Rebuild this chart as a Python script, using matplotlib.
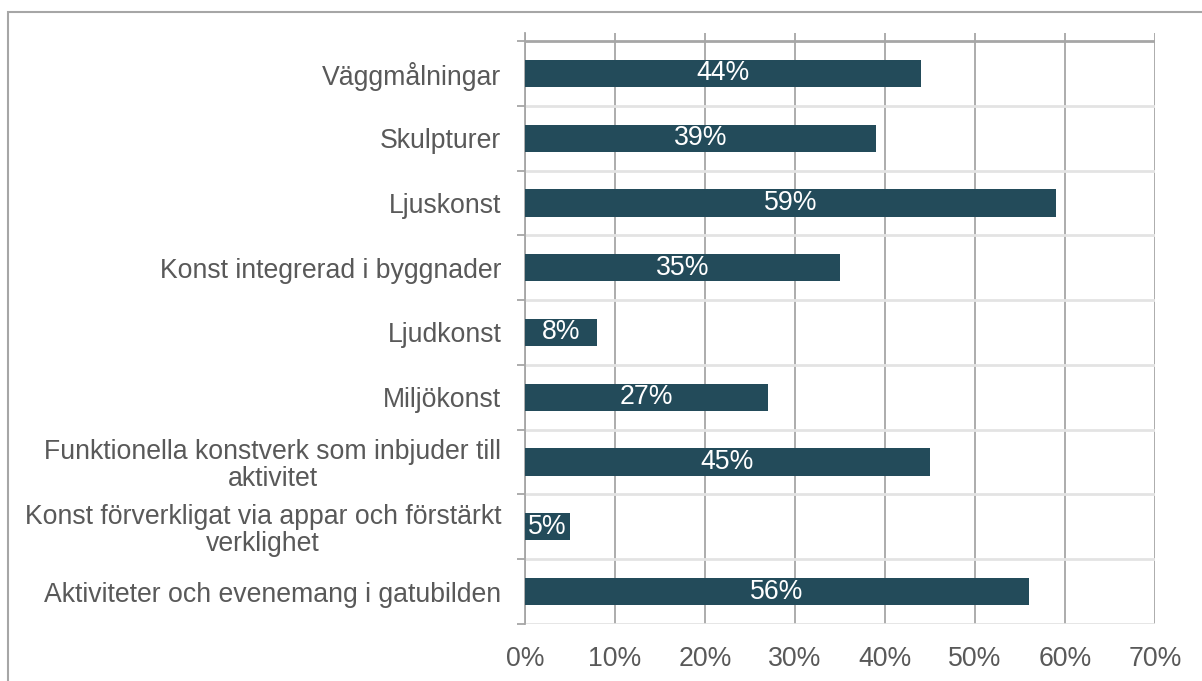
import matplotlib.pyplot as plt
from matplotlib.patches import Rectangle

# Data
categories = [
    "Väggmålningar",
    "Skulpturer",
    "Ljuskonst",
    "Konst integrerad i byggnader",
    "Ljudkonst",
    "Miljökonst",
    "Funktionella konstverk som inbjuder till\naktivitet",
    "Konst förverkligat via appar och förstärkt\nverklighet",
    "Aktiviteter och evenemang i gatubilden",
]
values = [44, 39, 59, 35, 8, 27, 45, 5, 56]
xticks = [0, 10, 20, 30, 40, 50, 60, 70]

plt.rcParams['font.family'] = ['Liberation Sans', 'DejaVu Sans']

bar_color = '#234b5a'
text_gray = '#595959'
grid_gray = '#a6a6a6'
light_gray = '#e3e3e3'
fs = 19.2

fig = plt.figure(figsize=(12.02, 6.81), dpi=100)
ax = fig.add_axes([525 / 1202, 57 / 681, 630 / 1202, 591 / 681])

y = list(range(len(categories)))
ax.barh(y, values, height=0.42, color=bar_color, zorder=3)

for yi, v in zip(y, values):
    ax.text(v / 2, yi, f"{v}%", ha='center', va='center', color='white',
            fontsize=fs, zorder=4)

n = len(categories)
px_per_cat = (624 - 41) / n
ax.set_ylim(n - 0.5, -0.5 - 8 / px_per_cat)
ax.set_xlim(0, 70)

# separators between categories
for k in range(n + 1):
    col = grid_gray if k == 0 else light_gray
    ax.axhline(k - 0.5, color=col, lw=2, zorder=1)

ax.set_xticks(xticks)
ax.set_xticklabels([f"{t}%" for t in xticks])
ax.grid(axis='x', color=grid_gray, lw=1.3, zorder=0)
ax.set_axisbelow(True)

ax.set_yticks(y)
ax.set_yticklabels(categories, multialignment='center', linespacing=1.05)
ax.set_yticks([k - 0.5 for k in range(n + 1)], minor=True)

ax.tick_params(axis='x', length=0, pad=16, labelsize=fs, labelcolor=text_gray)
ax.tick_params(axis='y', which='major', length=0, pad=17, labelsize=fs,
               labelcolor=text_gray)
ax.tick_params(axis='y', which='minor', length=6, width=1.3, color=grid_gray)

for s in ['top', 'right', 'bottom']:
    ax.spines[s].set_visible(False)
ax.spines['left'].set_color(grid_gray)
ax.spines['left'].set_linewidth(1.3)

# outer border of the chart area
fig.patches.append(Rectangle((8 / 1202, -0.1), 2, 1 - 12 / 681 + 0.1,
                             transform=fig.transFigure, fill=False,
                             edgecolor=grid_gray, lw=1.5))

fig.savefig('out.png', dpi=100)
